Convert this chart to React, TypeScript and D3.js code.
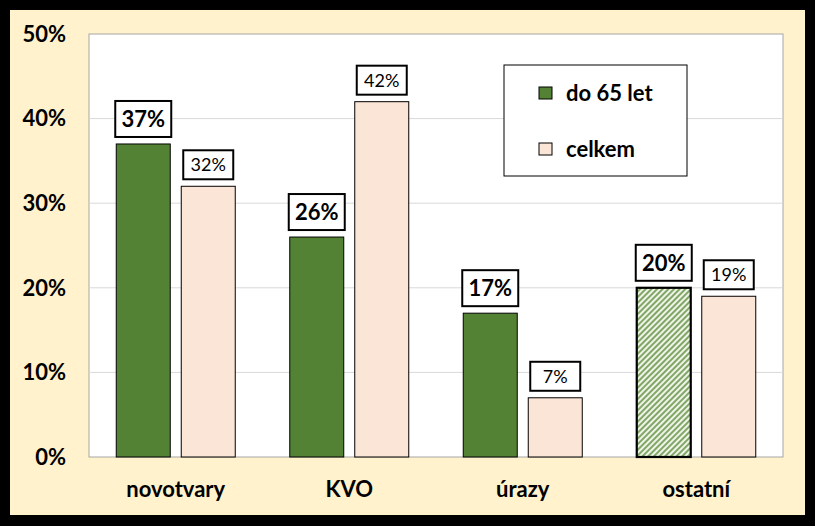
import React from "react";
import * as d3 from "d3";

const categories = ["novotvary", "KVO", "úrazy", "ostatní"];
const seriesNames = ["do 65 let", "celkem"];
const under65 = [37, 26, 17, 20];
const total = [32, 42, 7, 19];
const yTicks = [0, 10, 20, 30, 40, 50];

const W = 815, H = 526;
const plot = { left: 89, right: 783, top: 34, bottom: 457 };
const GREEN = "#548235";
const PINK = "#FBE5D6";
const CREAM = "#FFF2CC";
const FONT = "Lato, 'Open Sans', sans-serif";

export default function App() {
  const x = d3.scaleBand<string>().domain(categories).range([plot.left, plot.right]);
  const cw = x.bandwidth();
  const groupW = 119;
  const xs = d3
    .scaleBand<string>()
    .domain(seriesNames)
    .range([(cw - groupW) / 2, (cw + groupW) / 2])
    .paddingInner(11 / 65);
  const y = d3.scaleLinear().domain([0, 50]).range([plot.bottom, plot.top]);
  const bw = xs.bandwidth();

  const series = [
    { name: seriesNames[0], values: under65, fill: GREEN, bold: true },
    { name: seriesNames[1], values: total, fill: PINK, bold: false },
  ];

  return (
    <div style={{ position: "fixed", left: 0, top: 0 }}>
      <svg width={W} height={H} style={{ display: "block" }}>
        <defs>
          <pattern id="hatch" patternUnits="userSpaceOnUse" width="4" height="4" patternTransform="rotate(45)">
            <rect width="4" height="4" fill="#EEF5E6" />
            <line x1="1" y1="0" x2="1" y2="4" stroke="#5E8A3E" strokeWidth="1.5" />
          </pattern>
        </defs>
        <rect x={0} y={0} width={W} height={H} fill="#000" />
        <rect x={10} y={10} width={795} height={505} fill={CREAM} />
        <rect x={plot.left} y={plot.top} width={plot.right - plot.left} height={plot.bottom - plot.top} fill="#fff" stroke="#A6A6A6" strokeWidth={1} />
        {yTicks.slice(1, -1).map((t) => (
          <line key={t} x1={plot.left} x2={plot.right} y1={y(t)} y2={y(t)} stroke="#D9D9D9" strokeWidth={1} />
        ))}
        {yTicks.map((t) => (
          <text key={t} x={66} y={y(t)} dy="0.35em" textAnchor="end" fontFamily={FONT} fontWeight="bold" fontSize={22} fill="#000">
            {t}%
          </text>
        ))}
        {series.map((s) =>
          categories.map((c, i) => {
            const bx = (x(c) as number) + (xs(s.name) as number);
            const v = s.values[i];
            const top = y(v);
            const hatched = s.bold && c === "ostatní";
            const boxW = s.bold ? 56 : 50;
            const boxH = s.bold ? 36 : 29;
            const cx = bx + bw / 2;
            return (
              <g key={s.name + c}>
                <rect
                  x={bx}
                  y={top}
                  width={bw}
                  height={y(0) - top}
                  fill={hatched ? "url(#hatch)" : s.fill}
                  stroke="#000"
                  strokeWidth={hatched ? 2.2 : 1}
                />
                <rect x={cx - boxW / 2} y={top - 7 - boxH} width={boxW} height={boxH} fill="#fff" stroke="#000" strokeWidth={2} />
                <text
                  x={cx}
                  y={top - 7 - boxH / 2}
                  dy="0.36em"
                  textAnchor="middle"
                  fontFamily={FONT}
                  fontWeight={s.bold ? "bold" : "normal"}
                  fontSize={s.bold ? 22 : 18}
                  fill="#000"
                >
                  {v}%
                </text>
              </g>
            );
          })
        )}
        {categories.map((c) => (
          <text key={c} x={(x(c) as number) + cw / 2} y={497} textAnchor="middle" fontFamily={FONT} fontWeight="bold" fontSize={22} fill="#000">
            {c}
          </text>
        ))}
        <rect x={504} y={65} width={183} height={111} fill="#fff" stroke="#000" strokeWidth={1} />
        {series.map((s, i) => (
          <g key={s.name}>
            <rect x={539} y={87 + i * 56} width={13} height={12} fill={s.fill} stroke="#000" strokeWidth={1} />
            <text x={566} y={93 + i * 56} dy="0.35em" fontFamily={FONT} fontWeight="bold" fontSize={22} fill="#000">
              {s.name}
            </text>
          </g>
        ))}
      </svg>
    </div>
  );
}
